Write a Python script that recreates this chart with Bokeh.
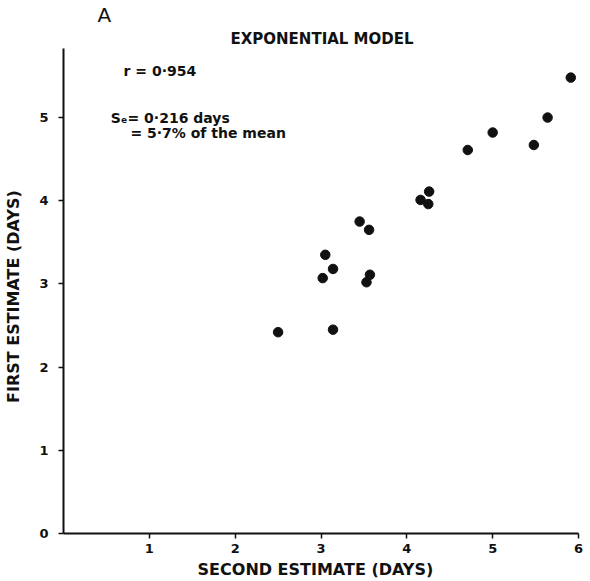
from bokeh.plotting import figure
from bokeh.models import Range1d, FixedTicker, Label, Title
from bokeh.embed import file_html
from bokeh.resources import INLINE

# Data
second_estimate = [2.50, 3.14, 3.05, 3.14, 3.02, 3.45, 3.56, 3.57, 3.53,
                   4.16, 4.25, 4.26, 4.71, 5.00, 5.48, 5.64, 5.91]
first_estimate = [2.42, 2.45, 3.35, 3.18, 3.07, 3.75, 3.65, 3.11, 3.02,
                  4.01, 3.96, 4.11, 4.61, 4.82, 4.67, 5.00, 5.48]
x_ticks = [1, 2, 3, 4, 5, 6]
y_ticks = [0, 1, 2, 3, 4, 5]

FONT = "DejaVu Sans"
INK = "#111111"
W, H = 590, 581

p = figure(width=W, height=H, output_backend="svg", toolbar_location=None,
           x_range=Range1d(0, 6), y_range=Range1d(0, 5.83),
           min_border_left=63, min_border_right=12, min_border_top=48,
           min_border_bottom=44)
p.outline_line_color = None
p.grid.visible = False
p.background_fill_color = "white"
p.border_fill_color = "white"

p.scatter(second_estimate, first_estimate, size=9.5, color=INK)

for ax in (p.xaxis[0], p.yaxis[0]):
    ax.axis_line_width = 2
    ax.axis_line_color = INK
    ax.major_tick_line_color = INK
    ax.major_tick_line_width = 1.5
    ax.major_tick_out = 5
    ax.major_tick_in = 0
    ax.minor_tick_line_color = None
    ax.major_label_text_font = FONT
    ax.major_label_text_font_size = "13px"
    ax.major_label_text_font_style = "bold"
    ax.major_label_text_color = INK
    ax.axis_label_text_font = FONT
    ax.axis_label_text_font_size = "16px"
    ax.axis_label_text_font_style = "bold"
    ax.axis_label_text_color = INK

p.xaxis.ticker = FixedTicker(ticks=x_ticks)
p.yaxis.ticker = FixedTicker(ticks=y_ticks)
p.xaxis.major_label_standoff = 5
p.yaxis.major_label_standoff = 10
p.xaxis.axis_label = "SECOND  ESTIMATE  (DAYS)"
p.yaxis.axis_label = "FIRST  ESTIMATE  (DAYS)"
p.xaxis.axis_label_standoff = 4
p.yaxis.axis_label_standoff = 13

# titles above the frame (first added sits closest to the frame)
p.add_layout(Title(text="EXPONENTIAL  MODEL", align="left", offset=167,
                   text_font=FONT, text_font_size="15px", text_font_style="bold",
                   text_color=INK, standoff=2), "above")
p.add_layout(Title(text="A", align="left", offset=34,
                   text_font=FONT, text_font_size="20px", text_font_style="normal",
                   text_color=INK, standoff=0), "above")

def lab(x, y, txt, size="14px", align="left", style="bold"):
    p.add_layout(Label(x=x, y=y, text=txt,
                       text_font=FONT, text_font_size=size,
                       text_font_style=style, text_color=INK, text_align=align,
                       text_baseline="middle"))

lab(0.70, 5.56, "r = 0·954")
lab(0.55, 5.00, "Sₑ= 0·216 days")
lab(0.78, 4.81, "= 5·7% of the mean")

open("out.html", "w").write(file_html(p, INLINE))
